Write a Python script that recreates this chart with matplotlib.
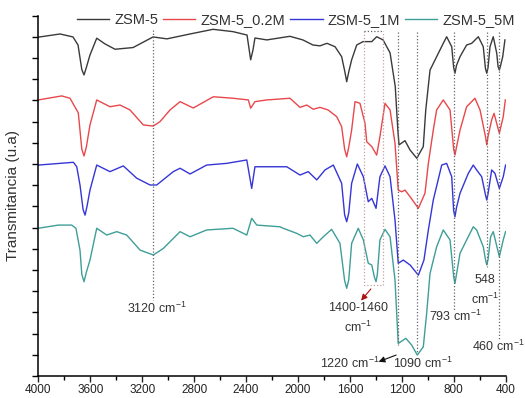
import matplotlib
import matplotlib.pyplot as plt

matplotlib.use("Agg")

plt.rcParams["font.family"] = ["Liberation Sans", "DejaVu Sans"]
plt.rcParams["mathtext.fontset"] = "custom"
plt.rcParams["mathtext.rm"] = "Liberation Sans"
plt.rcParams["mathtext.it"] = "Liberation Sans:italic"
plt.rcParams["mathtext.bf"] = "Liberation Sans:bold"

# FTIR spectra (wavenumber, cm-1) and stacked transmittance (a.u.)
wn_zsm5 = [4000, 3833, 3733, 3694, 3665, 3648, 3630, 3602, 3550, 3486, 3409, 3270, 3116,
           3009, 2831, 2654, 2500, 2392, 2364, 2346, 2331, 2239, 2062, 1962, 1884, 1830,
           1776, 1714, 1663, 1640, 1624, 1608, 1586, 1547, 1498, 1431, 1393, 1344, 1290,
           1250, 1230, 1221, 1175, 1136, 1084, 1034, 1015, 982, 931, 880, 854, 815, 800,
           790, 778, 751, 700, 661, 610, 572, 555, 545, 535, 520, 495, 468, 458, 448,
           438, 422, 405]
t_zsm5 = [15.98, 16.13, 15.99, 15.61, 14.45, 14.20, 14.55, 15.14, 15.93, 15.66, 15.41, 15.49, 15.99,
          15.90, 16.13, 16.35, 16.24, 16.08, 14.91, 15.38, 15.94, 15.85, 16.02, 15.85, 15.61, 15.57,
          15.69, 15.53, 15.06, 14.40, 13.88, 14.35, 14.91, 15.61, 15.77, 15.77, 16.00, 15.85, 15.24,
          13.65, 11.60, 10.90, 11.10, 10.66, 10.27, 10.82, 12.55, 14.43, 15.06, 15.69, 16.00, 15.53, 14.55,
          14.28, 14.65, 15.06, 15.61, 15.69, 16.00, 15.53, 14.50, 14.28, 14.55, 15.53, 16.00, 15.22, 14.60,
          14.43, 14.65, 15.06, 15.85]

wn_02m = [4000, 3820, 3756, 3692, 3665, 3648, 3630, 3602, 3550, 3448, 3371, 3294, 3191,
          3114, 3062, 2985, 2908, 2806, 2652, 2500, 2382, 2364, 2331, 2240, 2061, 1984,
          1932, 1881, 1830, 1768, 1701, 1663, 1640, 1624, 1608, 1586, 1560, 1522, 1483,
          1470, 1431, 1393, 1368, 1329, 1290, 1252, 1227, 1200, 1175, 1136, 1072, 1021,
          995, 957, 931, 880, 828, 800, 790, 778, 751, 700, 636, 597, 555, 545, 535,
          507, 489, 448, 418, 402]
t_02m = [13.02, 13.21, 13.10, 12.41, 10.70, 10.38, 10.80, 11.84, 13.02, 12.70, 12.78, 12.55, 11.84,
         11.79, 12.00, 12.55, 12.94, 12.64, 13.17, 13.10, 13.02, 12.63, 12.94, 13.02, 13.10, 12.67,
         12.78, 12.58, 12.67, 12.55, 12.23, 11.76, 10.70, 10.34, 10.80, 11.60, 12.94, 12.86, 11.92,
         11.05, 10.82, 10.42, 11.29, 12.86, 12.55, 10.98, 8.77, 8.69, 8.77, 8.46, 7.91, 8.62,
         10.03, 11.60, 12.55, 13.02, 12.55, 10.70, 10.42, 10.80, 11.60, 12.70, 13.10, 12.55, 11.30,
         10.90, 11.30, 12.08, 12.39, 11.45, 12.23, 13.02]

wn_1m = [4000, 3730, 3704, 3679, 3655, 3640, 3625, 3602, 3550, 3448, 3345, 3242, 3139,
         3088, 2960, 2908, 2831, 2703, 2549, 2394, 2356, 2331, 2138, 2086, 1984, 1920,
         1855, 1791, 1727, 1663, 1640, 1624, 1608, 1586, 1542, 1496, 1458, 1431, 1398,
         1368, 1329, 1290, 1252, 1227, 1188, 1136, 1072, 1029, 995, 957, 892, 854, 815,
         800, 790, 778, 751, 687, 649, 623, 584, 555, 545, 535, 507, 482, 448, 418, 400]
t_1m = [9.95, 10.08, 9.87, 9.01, 7.85, 7.59, 8.00, 8.77, 9.95, 9.64, 9.91, 9.33, 9.01,
        9.01, 9.64, 9.80, 9.53, 9.95, 10.03, 10.19, 8.85, 9.87, 9.87, 9.87, 9.48, 9.64,
        9.25, 9.72, 9.95, 9.09, 7.60, 7.28, 7.70, 9.09, 10.00, 9.40, 8.22, 8.38, 7.91,
        9.40, 9.91, 9.40, 7.36, 5.32, 5.47, 5.24, 4.76, 5.47, 6.89, 8.30, 9.95, 10.03, 9.40,
        7.80, 7.51, 7.95, 8.62, 9.56, 9.95, 9.72, 9.40, 8.55, 8.30, 8.60, 9.72, 9.56, 8.85,
        9.40, 9.95]

wn_5m = [4000, 3846, 3743, 3710, 3679, 3665, 3648, 3630, 3602, 3550, 3473, 3396, 3319,
         3216, 3114, 3037, 2908, 2831, 2703, 2500, 2394, 2356, 2317, 2138, 2113, 2009,
         1958, 1907, 1855, 1804, 1740, 1676, 1640, 1624, 1608, 1586, 1535, 1496, 1458,
         1431, 1410, 1398, 1388, 1368, 1329, 1290, 1252, 1227, 1168, 1123, 1080, 1034,
         1008, 982, 931, 880, 828, 800, 790, 778, 751, 700, 649, 623, 572, 555, 545,
         535, 515, 495, 448, 418, 400]
t_5m = [6.97, 7.12, 7.12, 6.97, 5.94, 4.80, 4.45, 4.90, 5.47, 6.97, 6.65, 6.81, 6.65,
        5.94, 5.71, 6.02, 6.81, 6.57, 6.89, 6.97, 6.65, 7.44, 7.12, 7.04, 6.97, 6.73,
        6.57, 6.65, 6.26, 6.57, 6.92, 6.26, 4.50, 4.14, 4.55, 6.26, 6.97, 6.42, 5.32,
        5.24, 4.65, 4.45, 4.80, 6.42, 6.92, 6.57, 4.53, 1.54, 1.78, 1.46, 0.99, 1.38,
        2.96, 4.84, 6.10, 6.89, 6.42, 4.70, 4.37, 4.80, 5.79, 6.42, 7.04, 6.89, 6.10,
        5.50, 5.24, 5.50, 6.57, 6.81, 5.63, 6.42, 6.81]

series_labels = ["ZSM-5", "ZSM-5_0.2M", "ZSM-5_1M", "ZSM-5_5M"]
series_colors = ["#3a3a3a", "#e8484c", "#3535d8", "#3f9e98"]

fig = plt.figure(figsize=(5.25, 3.98), dpi=100)
ax = fig.add_axes([0.073, 0.055, 0.890, 0.906])

series = [(wn_zsm5, t_zsm5), (wn_02m, t_02m), (wn_1m, t_1m), (wn_5m, t_5m)]
for (x, y), lab, col in zip(series, series_labels, series_colors):
    ax.plot(x, y, color=col, lw=1.0, label=lab)

# dotted marker lines
dot = dict(color="#666666", lw=0.9, ls=(0, (1, 1.6)))
ax.plot([3120, 3120], [16.3, 3.6], **dot)
ax.plot([1225, 1225], [16.2, 1.45], **dot)
ax.plot([1085, 1085], [16.2, 1.1], **dot)
ax.plot([795, 795], [16.2, 3.1], **dot)
ax.plot([541, 541], [16.2, 5.15], **dot)
ax.plot([450, 450], [16.2, 1.7], **dot)
box = dict(color="#c9a0a0", lw=0.9, ls=(0, (1, 1.6)))
ax.plot([1490, 1490, 1345, 1345], [16.25, 4.3, 4.3, 16.25], **box)
ax.plot([1490, 1345], [16.25, 16.25], **dot)

fs = 9
ax.text(3088, 3.19, "3120 cm$^{-1}$", ha="center", va="center", fontsize=fs, color="#333333")
ax.text(1535, 2.72, "1400-1460\ncm$^{-1}$", ha="center", va="center", fontsize=fs,
        color="#333333", linespacing=1.5)
ax.text(1599, 0.6, "1220 cm$^{-1}$", ha="center", va="center", fontsize=fs, color="#333333")
ax.text(1034, 0.6, "1090 cm$^{-1}$", ha="center", va="center", fontsize=fs, color="#333333")
ax.text(790, 2.83, "793 cm$^{-1}$", ha="center", va="center", fontsize=fs, color="#333333")
ax.text(559, 4.03, "548\ncm$^{-1}$", ha="center", va="center", fontsize=fs,
        color="#333333", linespacing=1.5)
ax.text(456, 1.38, "460 cm$^{-1}$", ha="center", va="center", fontsize=fs, color="#333333")

ax.annotate("", xy=(1527, 3.46), xytext=(1424, 4.21),
            arrowprops=dict(arrowstyle="-|>", color="#b01010", lw=0.8, mutation_scale=9))
ax.annotate("", xy=(1398, 0.63), xytext=(1223, 1.04),
            arrowprops=dict(arrowstyle="-|>", color="#111111", lw=0.8, mutation_scale=9))

ax.set_xlim(4000, 400)
ax.set_ylim(0, 17)
ax.set_xticks(range(4000, 399, -400))
ax.set_xticks(range(3800, 399, -400), minor=True)
ax.set_yticks(range(0, 18))
ax.set_yticklabels([])
ax.tick_params(axis="x", which="major", direction="out", length=4, width=1,
               labelsize=8.5, pad=2, colors="#222222")
ax.tick_params(axis="x", which="minor", direction="out", length=3, width=1)
ax.tick_params(axis="y", direction="out", length=4, width=1)
for side in ["top", "right"]:
    ax.spines[side].set_visible(False)
for side in ["left", "bottom"]:
    ax.spines[side].set_linewidth(1.1)

ax.set_ylabel("Transmitancia (u.a)", fontsize=11, color="#333333", labelpad=6)

ax.legend(loc="center", bbox_to_anchor=(296 / 525, 1 - 20 / 398),
          bbox_transform=fig.transFigure, ncol=4, frameon=False,
          fontsize=10.5, handlelength=2.2, handletextpad=0.35,
          columnspacing=0.35, labelcolor="#333333")

fig.savefig("out.png", dpi=100)
